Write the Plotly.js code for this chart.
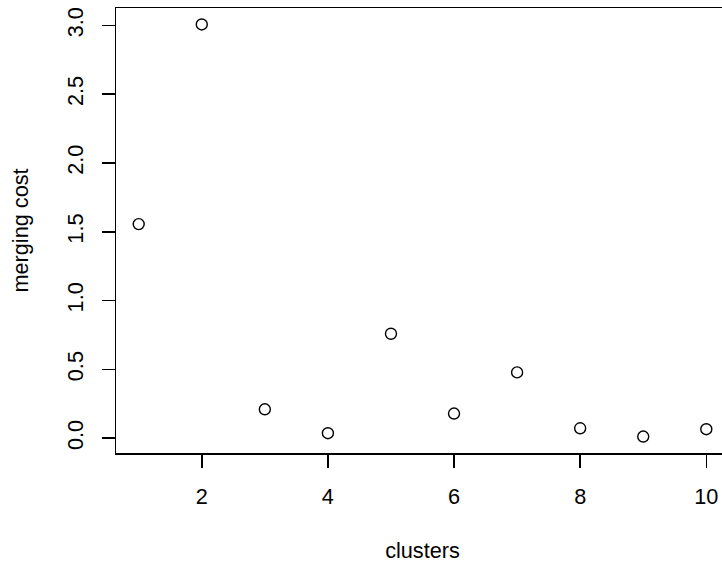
<!DOCTYPE html>
<html>
<head>
<meta charset="utf-8">
<script src="https://cdn.plot.ly/plotly-3.0.1.min.js"></script>
<style>
html,body{margin:0;padding:0;overflow:hidden;background:#fff;width:722px;height:563px;}
#chart{width:729px;height:563px;}
</style>
</head>
<body>
<div id="chart"></div>
<script>
const clusters = [1, 2, 3, 4, 5, 6, 7, 8, 9, 10];
const mergingCost = [1.556, 3.007, 0.21, 0.036, 0.759, 0.179, 0.478, 0.072, 0.012, 0.065];
const xTickVals = [2, 4, 6, 8, 10];
const yTickVals = [0.0, 0.5, 1.0, 1.5, 2.0, 2.5, 3.0];
const yTickText = ["0.0", "0.5", "1.0", "1.5", "2.0", "2.5", "3.0"];

function rRange(arr) {
  const mn = Math.min(...arr), mx = Math.max(...arr);
  const d = (mx - mn) * 0.04;
  return [mn - d, mx + d];
}

const font = {family: "Liberation Sans, Arial, Helvetica, sans-serif", size: 21.7, color: "#000"};

const trace = {
  x: clusters,
  y: mergingCost,
  type: "scatter",
  mode: "markers",
  marker: {symbol: "circle-open", size: 11, color: "#000", line: {color: "#000", width: 1.4}},
  hoverinfo: "x+y"
};

const axisCommon = {
  showgrid: false,
  zeroline: false,
  showline: true,
  linecolor: "#000",
  linewidth: 1.5,
  mirror: true,
  ticks: "outside",
  ticklen: 13,
  tickwidth: 1.5,
  tickcolor: "#000",
  tickfont: font,
  ticklabelstandoff: 10,
  automargin: false
};

const layout = {
  width: 729,
  height: 563,
  margin: {l: 116, r: 0, t: 8, b: 110},
  paper_bgcolor: "#fff",
  plot_bgcolor: "#fff",
  font: font,
  showlegend: false,
  xaxis: Object.assign({}, axisCommon, {
    range: rRange(clusters),
    tickmode: "array",
    tickvals: xTickVals,
    ticktext: xTickVals.map(String),
    title: {text: "clusters", font: font, standoff: 36}
  }),
  yaxis: Object.assign({}, axisCommon, {
    range: rRange(mergingCost),
    tickmode: "array",
    tickvals: yTickVals,
    ticktext: yTickText,
    tickangle: -90,
    title: {text: "merging cost", font: font, standoff: 28}
  })
};

Plotly.newPlot("chart", [trace], layout, {displayModeBar: false, staticPlot: true});
</script>
</body>
</html>
